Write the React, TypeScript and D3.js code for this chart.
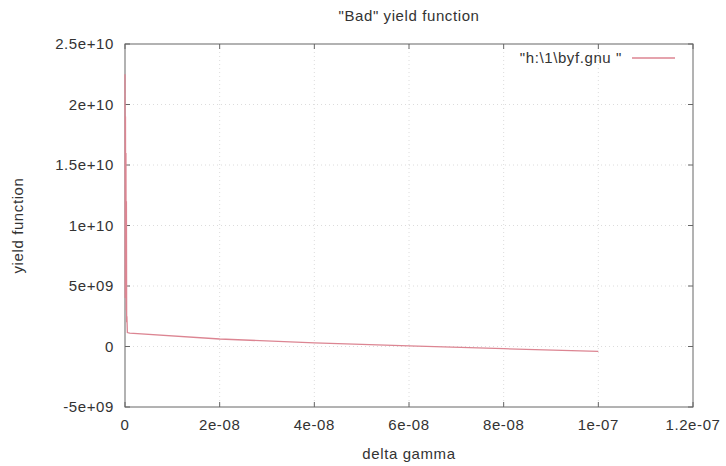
import * as d3 from 'd3';
import { useEffect, useRef } from 'react';

// delta gamma vs yield function
const deltaGamma = [0, 0.5e-10, 1e-10, 1.5e-10, 2e-10, 2.5e-10, 3e-10, 3.5e-10, 4e-10, 5e-10, 1e-9, 2e-8, 4e-8, 6e-8, 8e-8, 1e-7];
const yieldValues = [2.25e10, 4e9, 1.9e10, 6e9, 1.6e10, 3e9, 1.2e10, 2e9, 2.5e9, 1.15e9, 1.1e9, 0.62e9, 0.3e9, 0.05e9, -0.18e9, -0.4e9];
const xTicks = [0, 2e-8, 4e-8, 6e-8, 8e-8, 1e-7, 1.2e-7];
const xTickLabels = ['0', '2e-08', '4e-08', '6e-08', '8e-08', '1e-07', '1.2e-07'];
const yTicks = [-5e9, 0, 5e9, 1e10, 1.5e10, 2e10, 2.5e10];
const yTickLabels = ['-5e+09', '0', '5e+09', '1e+10', '1.5e+10', '2e+10', '2.5e+10'];

const W = 726, H = 466;
const margin = { top: 44, right: 33, bottom: 59, left: 125 };
const font = '"Liberation Sans", Arial, sans-serif';
const fontSize = 15;
const spacing = '0.6px';
const lineColor = '#dc8592';

export default function App() {
    const ref = useRef<SVGSVGElement>(null);

    useEffect(() => {
        const svg = d3.select(ref.current);
        svg.selectAll('*').remove();
        const iw = W - margin.left - margin.right;
        const ih = H - margin.top - margin.bottom;

        const x = d3.scaleLinear().domain([0, 1.2e-7]).range([0, iw]);
        const y = d3.scaleLinear().domain([-5e9, 2.5e10]).range([ih, 0]);

        svg.append('rect').attr('width', W).attr('height', H).attr('fill', '#fff');
        const g = svg.append('g').attr('transform', `translate(${margin.left},${margin.top})`);

        const txt = (sel: any) => sel.attr('font-family', font).attr('font-size', fontSize)
            .attr('letter-spacing', spacing).attr('fill', '#333');

        // faint dotted grid
        g.selectAll('.gx').data(xTicks.slice(1, -1)).join('line')
            .attr('x1', d => x(d)).attr('x2', d => x(d)).attr('y1', 0).attr('y2', ih)
            .attr('stroke', '#dcdcdc').attr('stroke-dasharray', '1,3');
        g.selectAll('.gy').data(yTicks.slice(1, -1)).join('line')
            .attr('y1', d => y(d)).attr('y2', d => y(d)).attr('x1', 0).attr('x2', iw)
            .attr('stroke', '#dcdcdc').attr('stroke-dasharray', '1,3');

        // ticks on all four sides, pointing inward
        const tk = 5;
        xTicks.forEach(t => {
            g.append('line').attr('x1', x(t)).attr('x2', x(t)).attr('y1', ih).attr('y2', ih - tk).attr('stroke', '#666');
            g.append('line').attr('x1', x(t)).attr('x2', x(t)).attr('y1', 0).attr('y2', tk).attr('stroke', '#666');
        });
        yTicks.forEach(t => {
            g.append('line').attr('y1', y(t)).attr('y2', y(t)).attr('x1', 0).attr('x2', tk).attr('stroke', '#666');
            g.append('line').attr('y1', y(t)).attr('y2', y(t)).attr('x1', iw).attr('x2', iw - tk).attr('stroke', '#666');
        });

        g.append('rect').attr('width', iw).attr('height', ih).attr('fill', 'none').attr('stroke', '#666');

        g.selectAll('.xl').data(xTicks).join('text')
            .attr('x', d => x(d)).attr('y', ih + 23).attr('text-anchor', 'middle')
            .call(txt)
            .text((d, i) => xTickLabels[i]);
        g.selectAll('.yl').data(yTicks).join('text')
            .attr('x', -11).attr('y', d => y(d) + 5).attr('text-anchor', 'end')
            .call(txt)
            .text((d, i) => yTickLabels[i]);

        const line = d3.line<number>().x((d, i) => x(deltaGamma[i])).y(d => y(d));
        g.append('path').datum(yieldValues).attr('d', line).attr('fill', 'none')
            .attr('stroke', lineColor).attr('stroke-width', 1.3);

        // legend
        g.append('text').attr('x', 497).attr('y', 19).attr('text-anchor', 'end')
            .call(txt)
            .text('"h:\\1\\byf.gnu "');
        g.append('line').attr('x1', 507).attr('x2', 550).attr('y1', 14).attr('y2', 14)
            .attr('stroke', lineColor).attr('stroke-width', 1.3);

        svg.append('text').attr('x', margin.left + iw / 2).attr('y', 21).attr('text-anchor', 'middle')
            .call(txt)
            .text('"Bad" yield function');
        svg.append('text').attr('x', margin.left + iw / 2).attr('y', 459).attr('text-anchor', 'middle')
            .call(txt)
            .text('delta gamma');
        svg.append('text').attr('transform', `translate(23,${margin.top + ih / 2}) rotate(-90)`)
            .attr('text-anchor', 'middle')
            .call(txt)
            .text('yield function');
    }, []);

    return (
        <svg ref={ref} width={W} height={H} style={{ position: 'absolute', left: 0, top: 0 }}></svg>
    );
}
